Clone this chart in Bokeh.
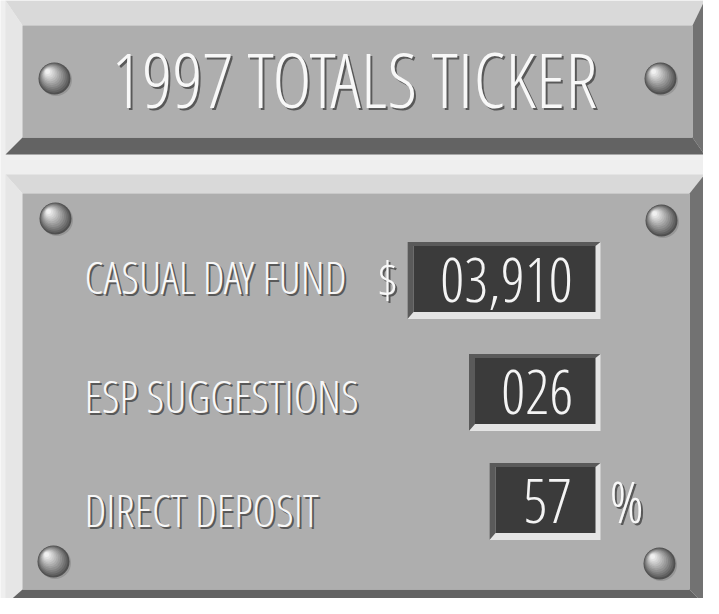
from bokeh.plotting import figure
from bokeh.embed import file_html
from bokeh.resources import INLINE
from bokeh.core.properties import value
from bokeh.models import Range1d

# ---------------- data ----------------
title = "1997 TOTALS TICKER"
labels = ["CASUAL DAY FUND", "ESP SUGGESTIONS", "DIRECT DEPOSIT"]
values = ["03,910", "026", "57"]
prefixes = ["$", "", ""]
suffixes = ["", "", "%"]

# ---------------- layout (pixel-like coordinates) ----------------
FONT = value("Open Sans Condensed Light")
label_cy = [285, 404, 518]
box_cy = [288, 400, 509]
box_right = 608
box_h = 77
label_x = 92
label_size = 45
digit_size = 60
title_size = 76
BASE_K = -0.02  # baseline offset (fraction of font size) so caps are centred on cy

p = figure(width=703, height=598, output_backend="svg", toolbar_location=None,
           x_range=Range1d(8, 711), y_range=Range1d(606, 8), min_border=0)
p.axis.visible = False
p.grid.visible = False
p.outline_line_color = None
p.background_fill_color = "#efefef"
p.border_fill_color = "#efefef"


def panel(x0, y0, x1, y1, fx0, fy0, fx1, fy1):
    xs = [[x0, x1, fx1, fx0], [x0, fx0, fx0, x0], [x1, x1, fx1, fx1], [x0, x1, fx1, fx0]]
    ys = [[y0, y0, fy0, fy0], [y0, fy0, fy1, y1], [y0, y1, fy1, fy0], [y1, y1, fy1, fy1]]
    cols = ["#d9d9d9", "#e6e6e6", "#727272", "#636363"]
    p.patches(xs, ys, fill_color=cols, line_color=None)
    p.quad(left=[fx0], right=[fx1], top=[fy0], bottom=[fy1], fill_color="#aeaeae", line_color=None)


def sphere(cx, cy, r=16):
    n = 12
    p.circle(x=[cx + 1.5], y=[cy + 1.5], radius=r, fill_color="#808080", fill_alpha=0.5, line_color=None)
    for k in range(n):
        t = k / (n - 1)
        rr = r * (1 - 0.85 * t)
        off = (r - rr) * 0.5
        g = int(80 + (240 - 80) * t ** 0.9)
        col = "#%02x%02x%02x" % (g, g, g)
        p.circle(x=[cx - off], y=[cy - off], radius=rr, fill_color=col, line_color=None)


def emboss(x, cy, txt, size, align="left"):
    y = cy + BASE_K * size
    p.text(x=[x + 2], y=[y + 2], text=[txt], text_font=FONT, text_font_size=f"{size}px",
           text_color="#4a4a4a", text_alpha=0.85, text_align=align, text_baseline="alphabetic")
    p.text(x=[x], y=[y], text=[txt], text_font=FONT, text_font_size=f"{size}px",
           text_color="#f8f8f8", text_align=align, text_baseline="alphabetic")


# top panel
panel(13, 8, 712, 162, 30, 33, 700, 145)
sphere(62, 86)
sphere(668, 86)
emboss(362, 88, title, title_size, align="center")

# bottom panel
panel(13, 182, 712, 612, 30, 201, 697, 597)
sphere(63, 226)
sphere(669, 228)
sphere(61, 569)
sphere(667, 571)

for i, lab in enumerate(labels):
    emboss(label_x, label_cy[i], lab, label_size)
    val = values[i]
    w = 70 + 20.5 * len(val)
    L, R = box_right - w, box_right
    T, B = box_cy[i] - box_h / 2, box_cy[i] + box_h / 2
    p.quad(left=[L], right=[R], top=[T], bottom=[B], fill_color="#e4e4e4", line_color=None)
    p.patches([[L, R, R - 5, L + 6, L + 6, L]], [[T, T, T + 4, T + 4, B - 7, B]],
              fill_color="#5a5a5a", line_color=None)
    p.quad(left=[L + 6], right=[R - 5], top=[T + 4], bottom=[B - 7], fill_color="#3b3b3b", line_color=None)
    cx = (L + 6 + R - 5) / 2 + 2
    p.text(x=[cx], y=[box_cy[i] + 1 + BASE_K * digit_size], text=[val], text_font=FONT,
           text_font_size=f"{digit_size}px", text_color="#f4f4f4", text_align="center",
           text_baseline="alphabetic")
    if prefixes[i]:
        emboss(L - 20, label_cy[i] + 2, prefixes[i], 50, align="center")
    if suffixes[i]:
        emboss(R + 26, box_cy[i], suffixes[i], 58, align="center")

open("out.html", "w").write(file_html(p, INLINE))
